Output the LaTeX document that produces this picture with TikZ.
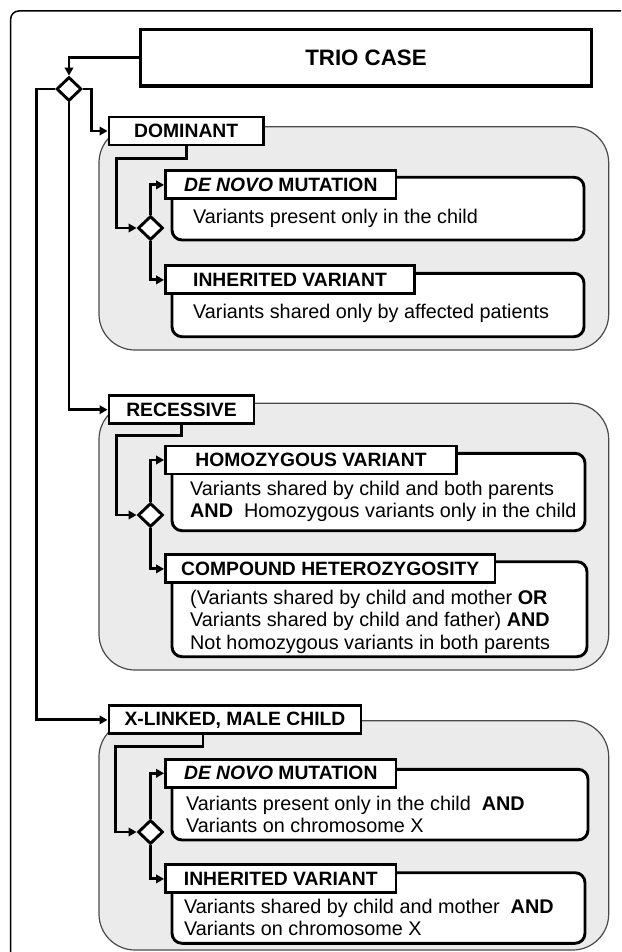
\documentclass[tikz,border=0pt]{standalone}
\usepackage{fontspec}
\setmainfont{Liberation Sans}
\usetikzlibrary{shapes.geometric,arrows.meta}
\definecolor{panelgray}{HTML}{EBEBEB}
\definecolor{panelline}{HTML}{4A4A4A}
\begin{document}
\begin{tikzpicture}[x=1pt,y=-1pt,
  conn/.style={line width=2.9pt,-{Triangle[length=8pt,width=8.5pt]}},
  hdr/.style={draw,line width=2.9pt,fill=white,inner sep=0pt,minimum height=28pt,
    font=\fontsize{19.3}{22}\selectfont\bfseries},
  descbox/.style={draw,line width=2.9pt,fill=white,rounded corners=10pt,inner sep=0pt},
  desctext/.style={anchor=west,inner sep=0pt,align=left,font=\fontsize{19.8}{22.5}\selectfont},
  panel/.style={draw=panelline,line width=1.2pt,fill=panelgray,rounded corners=36pt,inner sep=0pt},
  dia/.style={diamond,draw,line width=2.9pt,fill=white,inner sep=0pt,minimum width=25pt,minimum height=24pt}
]
\useasboundingbox (0,0) rectangle (621,952);
\begin{scope}
\clip (0,0) rectangle (621,952);
\fill[white] (0,0) rectangle (621,952);
% outer frame
\draw[line width=1.5pt,rounded corners=8pt] (10.7,1000) -- (10.7,11) -- (680,11);

% panels
\node[panel,minimum width=509.7pt,minimum height=223.3pt] (P1) at (353.85,238.35) {};
\node[panel,minimum width=509.7pt,minimum height=266.7pt] (P2) at (353.85,536.65) {};
\node[panel,minimum width=509.7pt,minimum height=229.3pt] (P3) at (353.85,835.35) {};

% top
\node[hdr,line width=3.2pt,minimum width=450.7pt,minimum height=56.7pt,font=\fontsize{22.3}{24}\selectfont\bfseries] (trio) at (366,57.7) {TRIO CASE};
\node[dia] (d0) at (69,89) {};

\node[hdr,minimum width=154.4pt] (dom) at (186.2,131) {DOMINANT};
\node[hdr,minimum width=145pt] (rec) at (181.5,409.7) {RECESSIVE};
\node[hdr,minimum width=252pt] (xl) at (235,719.9) {X-LINKED, MALE CHILD};

% dominant
\node[descbox,minimum width=412pt,minimum height=62.7pt] (d1b) at (378,208.65) {};
\node[descbox,minimum width=412pt,minimum height=63.4pt] (d2b) at (378,305) {};
\node[hdr,minimum width=230.5pt] (d1h) at (280.75,184.9) {\textit{DE NOVO} MUTATION};
\node[hdr,minimum width=249pt] (d2h) at (290,279.9) {INHERITED VARIANT};
\node[desctext] (d1t) at (193,218.3) {Variants present only in the child};
\node[desctext] (d2t) at (193,313.3) {Variants shared only by affected patients};
\node[dia] (dd) at (150.5,228) {};

% recessive
\node[descbox,minimum width=413pt,minimum height=77.4pt] (r1b) at (378.5,492) {};
\node[descbox,minimum width=415pt,minimum height=95pt] (r2b) at (379.5,609.2) {};
\node[hdr,minimum width=291pt] (r1h) at (311,460) {HOMOZYGOUS VARIANT};
\node[hdr,minimum width=329.5pt] (r2h) at (330.25,568.9) {COMPOUND HETEROZYGOSITY};
\node[desctext] (r1t) at (190,501.4) {Variants shared by child and both parents\\\textbf{AND}\ \ Homozygous variants only in the child};
\node[desctext] (r2t) at (190,621.7) {(Variants shared by child and mother \textbf{OR}\\Variants shared by child and father) \textbf{AND}\\Not homozygous variants in both parents};
\node[dia] (dr) at (150.5,515) {};

% x-linked
\node[descbox,minimum width=416pt,minimum height=70.7pt] (x1b) at (380,804.65) {};
\node[descbox,minimum width=413pt,minimum height=70.6pt] (x2b) at (378.5,908) {};
\node[hdr,minimum width=230.5pt] (x1h) at (280.75,773.3) {\textit{DE NOVO} MUTATION};
\node[hdr,minimum width=230.5pt] (x2h) at (280.75,878.9) {INHERITED VARIANT};
\node[desctext] (x1t) at (186,814.2) {Variants present only in the child\ \ \textbf{AND}\\Variants on chromosome X};
\node[desctext] (x2t) at (184,917.5) {Variants shared by child and mother\ \ \textbf{AND}\\Variants on chromosome X};
\node[dia] (dx) at (150.5,832) {};

% top connectors
\draw[conn] (trio.west) -| (d0.north);
\draw[conn] (d0.east) -| ([xshift=-16pt]dom.west) -- (dom.west);
\draw[conn] (d0.south) |- (rec.west);
\draw[conn] (d0.west) -| ([xshift=-71.4pt]xl.west) -- (xl.west);

% dominant connectors
\draw[conn] (dom.south) -- ++(0,11.7) -| ([xshift=-20.5pt]dd.west) -- (dd.west);
\draw[conn] (dd.north) |- (d1h.west);
\draw[conn] (dd.south) |- (d2h.west);

% recessive connectors
\draw[conn] (rec.south) -- ++(0,10) -| ([xshift=-20.5pt]dr.west) -- (dr.west);
\draw[conn] (dr.north) |- (r1h.west);
\draw[conn] (dr.south) |- (r2h.west);

% x-linked connectors
\draw[conn] ([xshift=-32pt]xl.south) -- ++(0,11) -| ([xshift=-21.5pt]dx.west) -- (dx.west);
\draw[conn] (dx.north) |- (x1h.west);
\draw[conn] (dx.south) |- (x2h.west);
\end{scope}
\end{tikzpicture}
\end{document}
